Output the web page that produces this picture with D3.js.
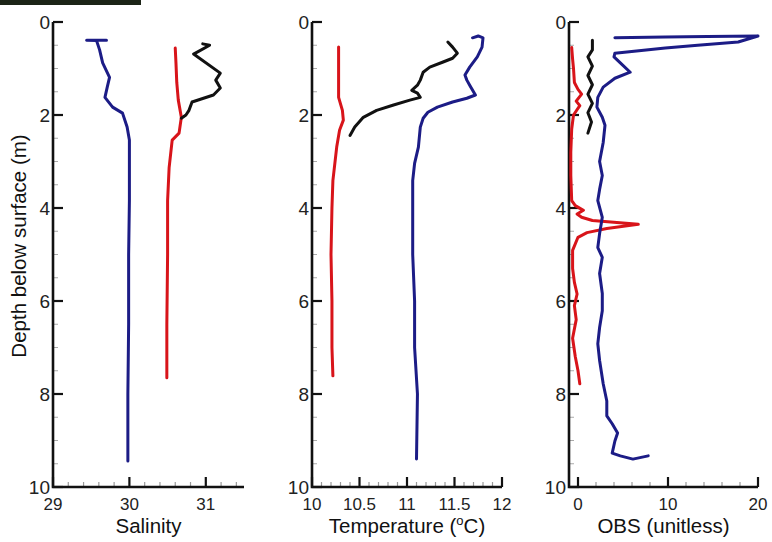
<!DOCTYPE html>
<html>
<head>
<meta charset="utf-8">
<script src="https://cdn.jsdelivr.net/npm/d3@7"></script>
<style>
  body { margin: 0; background: #fff; }
  svg { display: block; font-family: "Liberation Sans", Arial, sans-serif; }
</style>
</head>
<body>
<svg id="chart" width="772" height="542"></svg>
<script>
// depth axis shared by all three panels
const depthTicks = [0, 2, 4, 6, 8, 10];
const depthMinor = [0.5, 1, 1.5, 2.5, 3, 3.5, 4.5, 5, 5.5, 6.5, 7, 7.5, 8.5, 9, 9.5];

const salinityTicks = [29, 30, 31];
const temperatureTicks = [10, 10.5, 11, 11.5, 12];
const obsTicks = [0, 10, 20];

// profiles: [value, depth]
const salBlue = [[29.70,0.39],[29.44,0.39],[29.57,0.40],[29.61,0.60],[29.65,0.88],[29.74,1.19],[29.71,1.40],
  [29.68,1.62],[29.78,1.83],[29.91,1.96],[29.97,2.26],[30.0,2.54],[30.0,3.84],[29.99,5.0],[29.99,6.5],
  [29.98,8.0],[29.98,9.44]];
const salRed = [[30.60,0.56],[30.61,0.9],[30.62,1.3],[30.64,1.68],[30.68,2.05],[30.65,2.39],[30.56,2.54],
  [30.52,3.13],[30.50,3.84],[30.50,5.0],[30.49,6.5],[30.49,7.65]];
const salBlack = [[30.96,0.47],[31.05,0.50],[30.84,0.69],[31.19,1.10],[31.13,1.25],[31.19,1.42],[31.10,1.57],
  [30.82,1.72],[30.78,1.90],[30.74,2.00],[30.68,2.07]];

const tempRed = [[10.28,0.54],[10.28,1.0],[10.28,1.62],[10.32,1.90],[10.33,2.11],[10.29,2.33],[10.26,2.69],
  [10.22,3.41],[10.21,4.0],[10.20,5.0],[10.21,6.0],[10.21,7.0],[10.22,7.61]];
const tempBlack = [[11.43,0.43],[11.48,0.54],[11.53,0.67],[11.48,0.78],[11.38,0.86],[11.24,0.97],[11.17,1.08],
  [11.14,1.25],[11.11,1.36],[11.05,1.47],[11.11,1.53],[11.14,1.62],[11.03,1.68],[10.85,1.79],[10.68,1.90],
  [10.54,2.05],[10.45,2.26],[10.40,2.44]];
const tempBlue = [[11.69,0.34],[11.75,0.30],[11.80,0.34],[11.79,0.54],[11.74,0.75],[11.66,0.97],[11.61,1.14],
  [11.63,1.25],[11.66,1.36],[11.72,1.57],[11.63,1.64],[11.48,1.72],[11.32,1.83],[11.22,1.94],[11.17,2.07],
  [11.14,2.26],[11.12,2.69],[11.08,3.04],[11.06,3.41],[11.06,3.84],[11.06,5.0],[11.08,6.0],[11.08,7.0],
  [11.11,8.0],[11.10,9.40]];

const obsBlue = [[4.1,0.34],[9.7,0.32],[14.4,0.31],[20.0,0.30],[17.8,0.43],[13.3,0.50],[9.7,0.56],[4.1,0.67],
  [4.0,0.75],[4.7,0.88],[5.8,1.08],[4.1,1.21],[2.8,1.40],[2.2,1.62],[2.1,1.83],[2.7,2.05],[3.0,2.22],
  [2.8,2.59],[2.4,3.0],[2.7,3.3],[2.4,3.6],[2.2,3.84],[2.7,4.20],[2.4,4.55],[2.2,4.85],[2.7,5.06],[2.4,5.41],
  [2.7,5.84],[2.7,6.21],[2.4,6.57],[2.2,6.92],[2.4,7.28],[2.8,7.78],[3.2,8.15],[3.2,8.47],[3.8,8.64],
  [4.4,8.84],[4.1,9.01],[3.8,9.27],[4.7,9.33],[6.1,9.40],[7.8,9.33]];
const obsBlack = [[1.6,0.39],[1.6,0.6],[1.1,0.75],[1.6,0.95],[1.1,1.15],[1.6,1.35],[1.1,1.55],[1.6,1.75],
  [1.1,1.95],[1.5,2.15],[1.1,2.39]];
const obsRed = [[-0.7,0.55],[-0.6,0.8],[-0.5,1.0],[-0.4,1.3],[0.0,1.45],[0.4,1.55],[-0.2,1.7],[0.2,1.8],
  [-0.5,2.0],[-0.7,2.3],[-0.8,2.8],[-0.8,3.3],[-0.7,3.84],[-0.3,3.95],[0.6,4.05],[-0.1,4.13],[0.4,4.20],
  [1.6,4.27],[6.7,4.35],[3.2,4.44],[1.0,4.53],[0.0,4.63],[-0.6,4.91],[-0.6,5.3],[-0.4,5.6],[-0.1,5.85],
  [-0.4,6.1],[-0.2,6.4],[-0.6,6.8],[-0.3,7.2],[0.0,7.5],[0.2,7.78]];

const BLUE = "#1c1c86", RED = "#d8141a", BLACK = "#111";

const svg = d3.select("#chart");

// dark strip left over from the original crop
svg.append("rect").attr("x", 0).attr("y", 0).attr("width", 141).attr("height", 5).attr("fill", "#1c2417");

const yScale = d3.scaleLinear().domain([0, 10]).range([22, 487]);

function drawPanel(cfg) {
  const x = d3.scaleLinear().domain(cfg.domain).range(cfg.range);
  const g = svg.append("g");
  const x0 = cfg.range[0], y1 = yScale(10);

  // minor ticks
  g.selectAll(".ym").data(depthMinor).enter().append("line")
    .attr("x1", x0).attr("x2", x0 + 5)
    .attr("y1", d => yScale(d)).attr("y2", d => yScale(d))
    .attr("stroke", "#aaa").attr("stroke-width", 1);
  g.selectAll(".xm").data(cfg.minor).enter().append("line")
    .attr("x1", d => x(d)).attr("x2", d => x(d))
    .attr("y1", y1).attr("y2", y1 - 5)
    .attr("stroke", "#999").attr("stroke-width", 1.2);

  // major ticks
  g.selectAll(".yM").data(depthTicks).enter().append("line")
    .attr("x1", x0).attr("x2", x0 + 10)
    .attr("y1", d => yScale(d)).attr("y2", d => yScale(d))
    .attr("stroke", "#111").attr("stroke-width", 2.2);
  g.selectAll(".xM").data(cfg.ticks).enter().append("line")
    .attr("x1", d => x(d)).attr("x2", d => x(d))
    .attr("y1", y1).attr("y2", y1 - 10)
    .attr("stroke", "#111").attr("stroke-width", 2.2);

  // axis lines
  g.append("path")
    .attr("d", `M${x0},${yScale(0)}V${y1}H${cfg.range[1]}`)
    .attr("fill", "none").attr("stroke", "#111").attr("stroke-width", 2.6);

  // tick labels
  g.selectAll(".yl").data(depthTicks).enter().append("text")
    .attr("x", x0 - 3).attr("y", d => yScale(d))
    .attr("dy", "0.36em").attr("text-anchor", "end")
    .attr("font-size", 19).attr("fill", "#222")
    .text(d => d);
  g.selectAll(".xl").data(cfg.ticks).enter().append("text")
    .attr("x", d => x(d)).attr("y", 510)
    .attr("text-anchor", "middle")
    .attr("font-size", 17).attr("fill", "#222")
    .text(d => d);

  // axis title
  const t = g.append("text")
    .attr("x", (cfg.range[0] + cfg.range[1]) / 2 + (cfg.titleShift || 0)).attr("y", 533)
    .attr("text-anchor", "middle").attr("font-size", 20.5).attr("fill", "#111");
  cfg.title(t);

  // profiles
  const line = d3.line().x(d => x(d[0])).y(d => yScale(d[1]));
  cfg.series.forEach(s => {
    g.append("path").datum(s.data)
      .attr("d", line)
      .attr("fill", "none")
      .attr("stroke", s.color)
      .attr("stroke-width", 3)
      .attr("stroke-linejoin", "round")
      .attr("stroke-linecap", "round");
  });
}

drawPanel({
  domain: [29, 31.5], range: [53, 244],
  ticks: salinityTicks,
  minor: d3.range(29.2, 31.45, 0.2).filter(v => Math.abs(v - Math.round(v)) > 0.05),
  title: t => t.text("Salinity"),
  series: [{ data: salRed, color: RED }, { data: salBlack, color: BLACK }, { data: salBlue, color: BLUE }]
});

drawPanel({
  domain: [10, 12], range: [312, 502],
  ticks: temperatureTicks,
  minor: d3.range(10.1, 11.95, 0.1).filter(v => Math.abs(v * 2 - Math.round(v * 2)) > 0.05),
  title: t => {
    t.append("tspan").text("Temperature (");
    t.append("tspan").attr("font-size", 13).attr("dy", -8).text("o");
    t.append("tspan").attr("dy", 8).text("C)");
  },
  series: [{ data: tempRed, color: RED }, { data: tempBlack, color: BLACK }, { data: tempBlue, color: BLUE }]
});

drawPanel({
  domain: [-1, 20], range: [569, 758],
  ticks: obsTicks,
  minor: [2, 4, 6, 8, 12, 14, 16, 18],
  title: t => t.text("OBS (unitless)"),
  series: [{ data: obsRed, color: RED }, { data: obsBlack, color: BLACK }, { data: obsBlue, color: BLUE }]
});

// shared y title
svg.append("text")
  .attr("transform", "translate(26,246) rotate(-90)")
  .attr("text-anchor", "middle")
  .attr("font-size", 20.5).attr("fill", "#111")
  .text("Depth below surface (m)");
</script>
</body>
</html>
